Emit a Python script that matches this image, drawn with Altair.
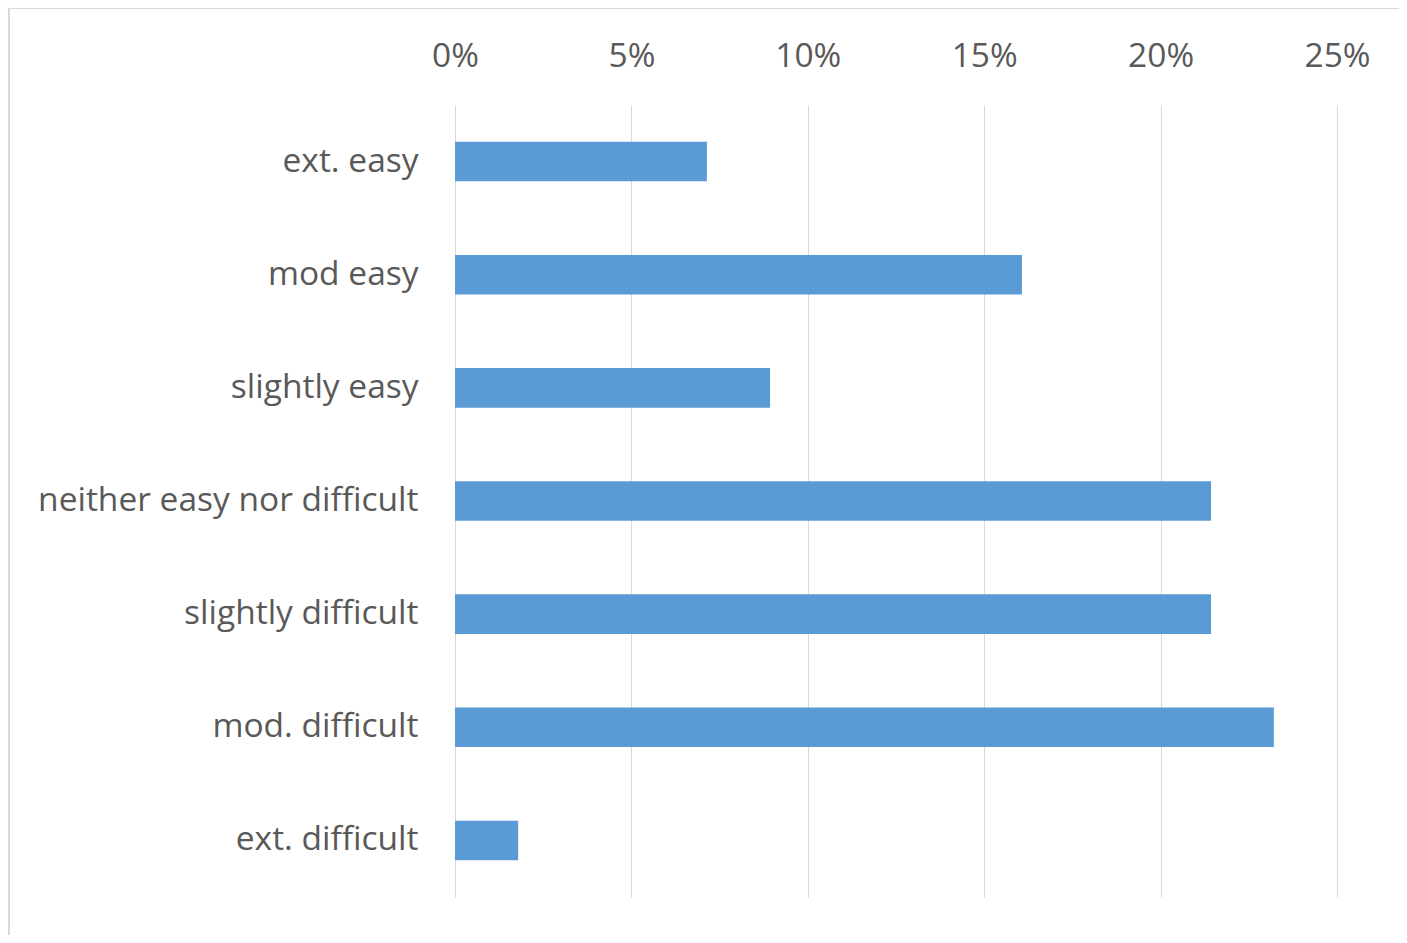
import altair as alt
import pandas as pd

categories = ["ext. easy", "mod easy", "slightly easy", "neither easy nor difficult",
              "slightly difficult", "mod. difficult", "ext. difficult"]
percent = [7.14, 16.07, 8.93, 21.43, 21.43, 23.21, 1.79]
tick_values = [0, 5, 10, 15, 20, 25]

df = pd.DataFrame({"category": categories, "value": [p / 100 for p in percent]})

FONT = "Open Sans"
GREY = "#595959"
SIZE = 33.5

bars = alt.Chart(df).mark_bar(color="#5b9bd5").encode(
    x=alt.X("value:Q",
            scale=alt.Scale(domain=[0, 0.25], nice=False),
            axis=alt.Axis(orient="top", format=".0%", values=[v / 100 for v in tick_values],
                          title=None, ticks=False, domain=False, grid=True,
                          gridColor="#d9d9d9", gridWidth=1, labelFlush=False,
                          labelFont=FONT, labelFontSize=SIZE, labelColor=GREY,
                          labelPadding=32)),
    y=alt.Y("category:N", sort=categories,
            scale=alt.Scale(paddingInner=0.65, paddingOuter=0.325),
            axis=alt.Axis(title=None, ticks=False, domain=False, grid=False,
                          labelFont=FONT, labelFontSize=SIZE, labelColor=GREY,
                          labelPadding=37, labelLimit=700)),
)

# chart-area border (top and left edges, as in the reference screenshot)
border_top = alt.Chart(df).mark_rule(color="#d9d9d9", strokeWidth=2).encode(
    x=alt.value(-446), x2=alt.value(1000), y=alt.value(-97)
)
border_left = alt.Chart(df).mark_rule(color="#d9d9d9", strokeWidth=2).encode(
    x=alt.value(-446), y=alt.value(-97), y2=alt.value(900)
)

chart = alt.layer(bars, border_top, border_left).properties(
    width=882, height=792,
    background="white",
    autosize=alt.AutoSizeParams(type="none"),
    padding={"left": 447, "top": 97, "right": 62, "bottom": 38},
).configure_view(stroke=None, strokeWidth=0)

chart.save("out.html", embed_options={"renderer": "svg", "actions": False})
